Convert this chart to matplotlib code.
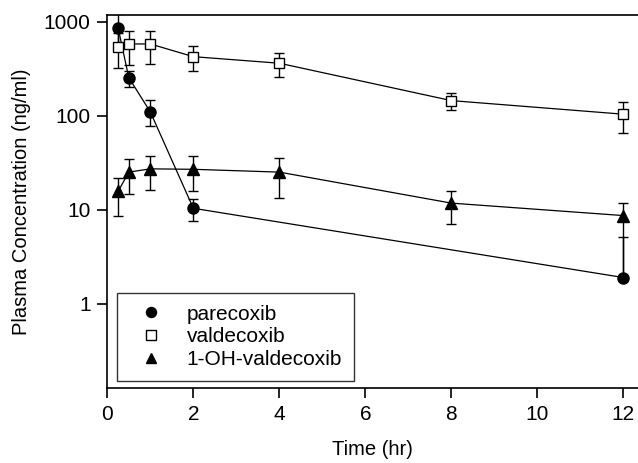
import matplotlib
matplotlib.use('Agg')
import matplotlib.pyplot as plt
from matplotlib.lines import Line2D
import numpy as np

plt.rcParams['font.family'] = ['Liberation Sans', 'DejaVu Sans']

time_hr = [0.25, 0.5, 1, 2, 4, 8, 12]

# parecoxib (no 4 and 8 hr points)
pare_t = [0.25, 0.5, 1, 2, 12]
pare_mean = [863, 254, 110, 10.4, 1.91]
pare_low = [540, 201, 77, 7.7, 1.91]
pare_high = [1200, 302, 148, 13.1, 5.2]

# valdecoxib
vald_mean = [543, 580, 580, 425, 362, 145, 104]
vald_low = [320, 347, 356, 302, 257, 116, 65]
vald_high = [760, 796, 790, 552, 461, 176, 139]

# 1-OH-valdecoxib
oh_mean = [15.7, 25.2, 27.3, 27.0, 25.2, 11.8, 8.7]
oh_low = [8.65, 14.7, 16.1, 15.7, 13.5, 7.0, 2.0]
oh_high = [21.8, 34.6, 37.8, 37.8, 35.5, 15.7, 11.8]

labels = ['parecoxib', 'valdecoxib', '1-OH-valdecoxib']


def yerr(mean, low, high):
    m = np.array(mean)
    return [m - np.array(low), np.array(high) - m]


fig = plt.figure(figsize=(6.38, 4.63), dpi=100)
ax = fig.add_axes([0.1682, 0.162, 0.8318, 0.8056])

common = dict(color='black', linewidth=0.9, elinewidth=1.0, capsize=3.8, capthick=1.0)

ax.errorbar(pare_t, pare_mean, yerr=yerr(pare_mean, pare_low, pare_high),
            marker='o', markersize=8, markerfacecolor='black', markeredgecolor='black',
            **common)
ax.errorbar(time_hr, vald_mean, yerr=yerr(vald_mean, vald_low, vald_high),
            marker='s', markersize=7.5, markerfacecolor='white', markeredgecolor='black',
            markeredgewidth=1.0, **common)
ax.errorbar(time_hr, oh_mean, yerr=yerr(oh_mean, oh_low, oh_high),
            marker='^', markersize=9, markerfacecolor='black', markeredgecolor='black',
            **common)

ax.set_yscale('log')
ax.set_ylim(0.128, 1178)
ax.set_xlim(0, 12.34)
ax.set_yticks([1, 10, 100, 1000])
ax.set_yticklabels(['1', '10', '100', '1000'])
ax.yaxis.set_minor_locator(matplotlib.ticker.NullLocator())
ax.set_xticks([0, 2, 4, 6, 8, 10, 12])

ax.spines['right'].set_visible(False)
for s in ['left', 'bottom', 'top']:
    ax.spines[s].set_linewidth(1.2)

ax.tick_params(axis='both', direction='out', length=7, width=1.2, labelsize=15,
               pad=5, colors='black')

ax.set_xlabel('Time (hr)', fontsize=14.5, labelpad=12)
ax.set_ylabel('Plasma Concentration (ng/ml)', fontsize=14.5, labelpad=9)

# legend shows markers only
handles = [
    Line2D([], [], linestyle='none', marker='o', markersize=7.2, color='black'),
    Line2D([], [], linestyle='none', marker='s', markersize=6.5, markerfacecolor='white',
           markeredgecolor='black', markeredgewidth=1.0),
    Line2D([], [], linestyle='none', marker='^', markersize=7.5, color='black'),
]
leg = ax.legend(handles, labels, loc='lower left', bbox_to_anchor=(0.0178, 0.018),
                fontsize=15, frameon=True, fancybox=False, edgecolor='black',
                borderpad=0.58, labelspacing=0.18, handlelength=2.1, handletextpad=0.68,
                borderaxespad=0)
leg.get_frame().set_linewidth(1.0)

fig.savefig('out.png', dpi=100)
